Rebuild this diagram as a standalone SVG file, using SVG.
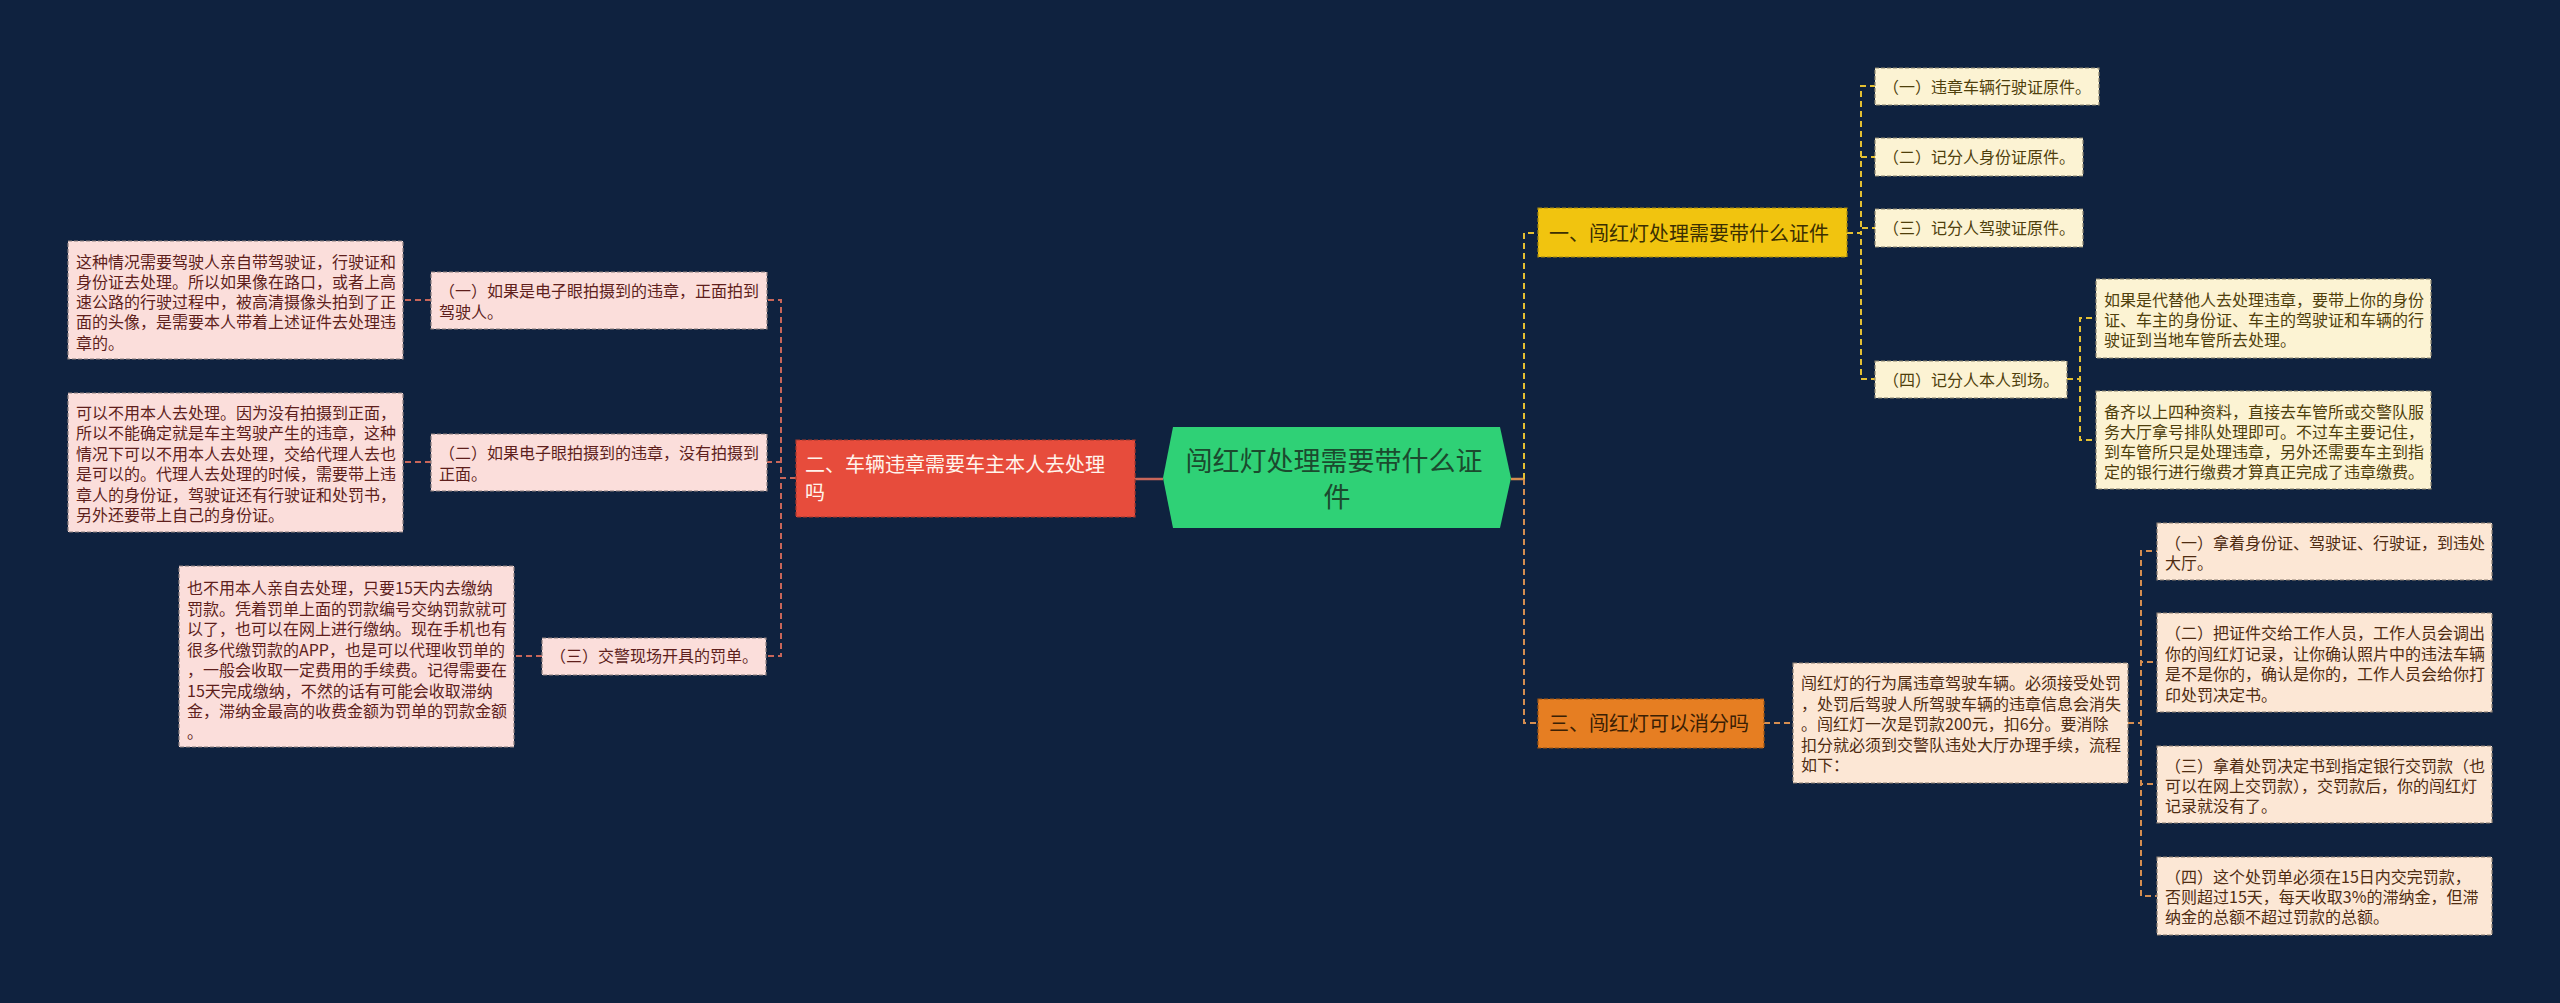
<svg xmlns="http://www.w3.org/2000/svg" width="2560" height="1003" viewBox="0 0 2560 1003">
<style>
  .bg { fill: #0f223f; }
  .t { font-family: "Noto Sans CJK SC", "Noto Sans", sans-serif; }
  .s { font-size: 16px; }
  .pinkbox { fill: #fbdedb; stroke: #8c7f7f; stroke-width: 1.2; stroke-dasharray: 4 2; }
  .pinkt { fill: #5e1f1c; }
  .creambox { fill: #fcf3d3; stroke: #8c8570; stroke-width: 1.2; stroke-dasharray: 4 2; }
  .creamt { fill: #4f3f0c; }
  .peachbox { fill: #fce7d5; stroke: #8c7f72; stroke-width: 1.2; stroke-dasharray: 4 2; }
  .peacht { fill: #4f2c12; }
  .conn { fill: none; stroke-width: 2; stroke-dasharray: 6 4; }
  .cl { stroke: #c8665a; }
  .cy { stroke: #e4c032; }
  .co { stroke: #d58e50; }
</style>
<rect class="bg" x="0" y="0" width="2560" height="1003"/>

<g id="connectors">
  <path class="cl" d="M1163,479 H1135" fill="none" stroke-width="2.5"/>
  <path class="conn cl" d="M796,478 H781 V300 H767"/>
  <path class="conn cl" d="M796,478 H781 V462 H767"/>
  <path class="conn cl" d="M796,478 H781 V656 H766"/>
  <path class="conn cl" d="M431,300 H403"/>
  <path class="conn cl" d="M431,462 H403"/>
  <path class="conn cl" d="M542,656 H514"/>

  <path class="co" d="M1511,479 H1524" fill="none" stroke-width="2.5"/>
  <path class="conn cy" d="M1524,479 V233 H1538"/>
  <path class="conn cy" d="M1847,233 H1861 V86 H1875"/>
  <path class="conn cy" d="M1847,233 H1861 V157 H1875"/>
  <path class="conn cy" d="M1847,233 H1861 V228 H1875"/>
  <path class="conn cy" d="M1847,233 H1861 V379 H1875"/>
  <path class="conn cy" d="M2067,379 H2080 V318 H2096"/>
  <path class="conn cy" d="M2067,379 H2080 V440 H2096"/>

  <path class="conn co" d="M1524,479 V723 H1538"/>
  <path class="conn co" d="M1764,723 H1793"/>
  <path class="conn co" d="M2128,723 H2141 V551 H2157"/>
  <path class="conn co" d="M2128,723 H2141 V662 H2157"/>
  <path class="conn co" d="M2128,723 H2141 V784 H2157"/>
  <path class="conn co" d="M2128,723 H2141 V896 H2157"/>
</g>

<g id="root">
  <polygon points="1173,427 1500,427 1511,478 1500,528 1173,528 1163,478" fill="#2fd176"/>
  <text class="t" font-size="27" fill="#1b4a2e" text-anchor="middle">
    <tspan x="1337" y="471">闯红灯处理需要带什么证</tspan>
    <tspan x="1337" y="507">件</tspan>
  </text>
</g>

<g id="branch-2">
  <rect x="796" y="440" width="339" height="77" fill="#e74c3c" stroke="#a8392d" stroke-width="1.2" stroke-dasharray="4 2"/>
  <text class="t" font-size="20" fill="#fff4ec">
    <tspan x="805" y="472">二、车辆违章需要车主本人去处理</tspan>
    <tspan x="805" y="500">吗</tspan>
  </text>
</g>

<g id="l-1">
  <rect class="pinkbox" x="431" y="272" width="336" height="57"/>
  <text class="t s pinkt">
    <tspan x="439" y="297">（一）如果是电子眼拍摄到的违章，正面拍到</tspan>
    <tspan x="439" y="318">驾驶人。</tspan>
  </text>
</g>
<g id="l-1-a">
  <rect class="pinkbox" x="68" y="241" width="335" height="118"/>
  <text class="t s pinkt">
    <tspan x="76" y="268">这种情况需要驾驶人亲自带驾驶证，行驶证和</tspan>
    <tspan x="76" y="288">身份证去处理。所以如果像在路口，或者上高</tspan>
    <tspan x="76" y="308">速公路的行驶过程中，被高清摄像头拍到了正</tspan>
    <tspan x="76" y="328">面的头像，是需要本人带着上述证件去处理违</tspan>
    <tspan x="76" y="349">章的。</tspan>
  </text>
</g>

<g id="l-2">
  <rect class="pinkbox" x="431" y="434" width="336" height="57"/>
  <text class="t s pinkt">
    <tspan x="439" y="459">（二）如果电子眼拍摄到的违章，没有拍摄到</tspan>
    <tspan x="439" y="480">正面。</tspan>
  </text>
</g>
<g id="l-2-a">
  <rect class="pinkbox" x="68" y="393" width="335" height="139"/>
  <text class="t s pinkt">
    <tspan x="76" y="419">可以不用本人去处理。因为没有拍摄到正面，</tspan>
    <tspan x="76" y="439.4">所以不能确定就是车主驾驶产生的违章，这种</tspan>
    <tspan x="76" y="459.8">情况下可以不用本人去处理，交给代理人去也</tspan>
    <tspan x="76" y="480.2">是可以的。代理人去处理的时候，需要带上违</tspan>
    <tspan x="76" y="500.6">章人的身份证，驾驶证还有行驶证和处罚书，</tspan>
    <tspan x="76" y="521">另外还要带上自己的身份证。</tspan>
  </text>
</g>

<g id="l-3">
  <rect class="pinkbox" x="542" y="638" width="224" height="37"/>
  <text class="t s pinkt">
    <tspan x="550" y="662">（三）交警现场开具的罚单。</tspan>
  </text>
</g>
<g id="l-3-a">
  <rect class="pinkbox" x="179" y="566" width="335" height="181"/>
  <text class="t s pinkt">
    <tspan x="187" y="594">也不用本人亲自去处理，只要15天内去缴纳</tspan>
    <tspan x="187" y="614.5">罚款。凭着罚单上面的罚款编号交纳罚款就可</tspan>
    <tspan x="187" y="635">以了，也可以在网上进行缴纳。现在手机也有</tspan>
    <tspan x="187" y="655.5">很多代缴罚款的APP，也是可以代理收罚单的</tspan>
    <tspan x="187" y="676">，一般会收取一定费用的手续费。记得需要在</tspan>
    <tspan x="187" y="696.5">15天完成缴纳，不然的话有可能会收取滞纳</tspan>
    <tspan x="187" y="717">金，滞纳金最高的收费金额为罚单的罚款金额</tspan>
    <tspan x="187" y="737.5">。</tspan>
  </text>
</g>

<g id="branch-1">
  <rect x="1538" y="208" width="309" height="49" fill="#f1c40f" stroke="#a88a10" stroke-width="1.2" stroke-dasharray="4 2"/>
  <text class="t" font-size="20" fill="#3b2f02">
    <tspan x="1549" y="240.5">一、闯红灯处理需要带什么证件</tspan>
  </text>
</g>

<g id="r1-1">
  <rect class="creambox" x="1875" y="68" width="224" height="37"/>
  <text class="t s creamt"><tspan x="1883" y="92.5">（一）违章车辆行驶证原件。</tspan></text>
</g>
<g id="r1-2">
  <rect class="creambox" x="1875" y="138" width="208" height="38"/>
  <text class="t s creamt"><tspan x="1883" y="163">（二）记分人身份证原件。</tspan></text>
</g>
<g id="r1-3">
  <rect class="creambox" x="1875" y="209" width="208" height="38"/>
  <text class="t s creamt"><tspan x="1883" y="234">（三）记分人驾驶证原件。</tspan></text>
</g>
<g id="r1-4">
  <rect class="creambox" x="1875" y="361" width="192" height="37"/>
  <text class="t s creamt"><tspan x="1883" y="385.5">（四）记分人本人到场。</tspan></text>
</g>
<g id="r1-4-a">
  <rect class="creambox" x="2096" y="279" width="335" height="79"/>
  <text class="t s creamt">
    <tspan x="2104" y="306">如果是代替他人去处理违章，要带上你的身份</tspan>
    <tspan x="2104" y="326">证、车主的身份证、车主的驾驶证和车辆的行</tspan>
    <tspan x="2104" y="346">驶证到当地车管所去处理。</tspan>
  </text>
</g>
<g id="r1-4-b">
  <rect class="creambox" x="2096" y="391" width="335" height="98"/>
  <text class="t s creamt">
    <tspan x="2104" y="418">备齐以上四种资料，直接去车管所或交警队服</tspan>
    <tspan x="2104" y="438">务大厅拿号排队处理即可。不过车主要记住，</tspan>
    <tspan x="2104" y="458">到车管所只是处理违章，另外还需要车主到指</tspan>
    <tspan x="2104" y="478">定的银行进行缴费才算真正完成了违章缴费。</tspan>
  </text>
</g>

<g id="branch-3">
  <rect x="1538" y="699" width="226" height="49" fill="#e67e22" stroke="#9c5514" stroke-width="1.2" stroke-dasharray="4 2"/>
  <text class="t" font-size="20" fill="#3b2004">
    <tspan x="1549" y="730.5">三、闯红灯可以消分吗</tspan>
  </text>
</g>
<g id="r3-a">
  <rect class="peachbox" x="1793" y="663" width="335" height="120"/>
  <text class="t s peacht">
    <tspan x="1801" y="689">闯红灯的行为属违章驾驶车辆。必须接受处罚</tspan>
    <tspan x="1801" y="709.5">，处罚后驾驶人所驾驶车辆的违章信息会消失</tspan>
    <tspan x="1801" y="730">。闯红灯一次是罚款200元，扣6分。要消除</tspan>
    <tspan x="1801" y="750.5">扣分就必须到交警队违处大厅办理手续，流程</tspan>
    <tspan x="1801" y="771">如下：</tspan>
  </text>
</g>
<g id="r3-1">
  <rect class="peachbox" x="2157" y="523" width="335" height="57"/>
  <text class="t s peacht">
    <tspan x="2165" y="549">（一）拿着身份证、驾驶证、行驶证，到违处</tspan>
    <tspan x="2165" y="569">大厅。</tspan>
  </text>
</g>
<g id="r3-2">
  <rect class="peachbox" x="2157" y="613" width="335" height="99"/>
  <text class="t s peacht">
    <tspan x="2165" y="639">（二）把证件交给工作人员，工作人员会调出</tspan>
    <tspan x="2165" y="659.5">你的闯红灯记录，让你确认照片中的违法车辆</tspan>
    <tspan x="2165" y="680">是不是你的，确认是你的，工作人员会给你打</tspan>
    <tspan x="2165" y="700.5">印处罚决定书。</tspan>
  </text>
</g>
<g id="r3-3">
  <rect class="peachbox" x="2157" y="746" width="335" height="77"/>
  <text class="t s peacht">
    <tspan x="2165" y="772">（三）拿着处罚决定书到指定银行交罚款（也</tspan>
    <tspan x="2165" y="792">可以在网上交罚款），交罚款后，你的闯红灯</tspan>
    <tspan x="2165" y="812">记录就没有了。</tspan>
  </text>
</g>
<g id="r3-4">
  <rect class="peachbox" x="2157" y="857" width="335" height="78"/>
  <text class="t s peacht">
    <tspan x="2165" y="883">（四）这个处罚单必须在15日内交完罚款，</tspan>
    <tspan x="2165" y="903">否则超过15天，每天收取3%的滞纳金，但滞</tspan>
    <tspan x="2165" y="923">纳金的总额不超过罚款的总额。</tspan>
  </text>
</g>
</svg>
